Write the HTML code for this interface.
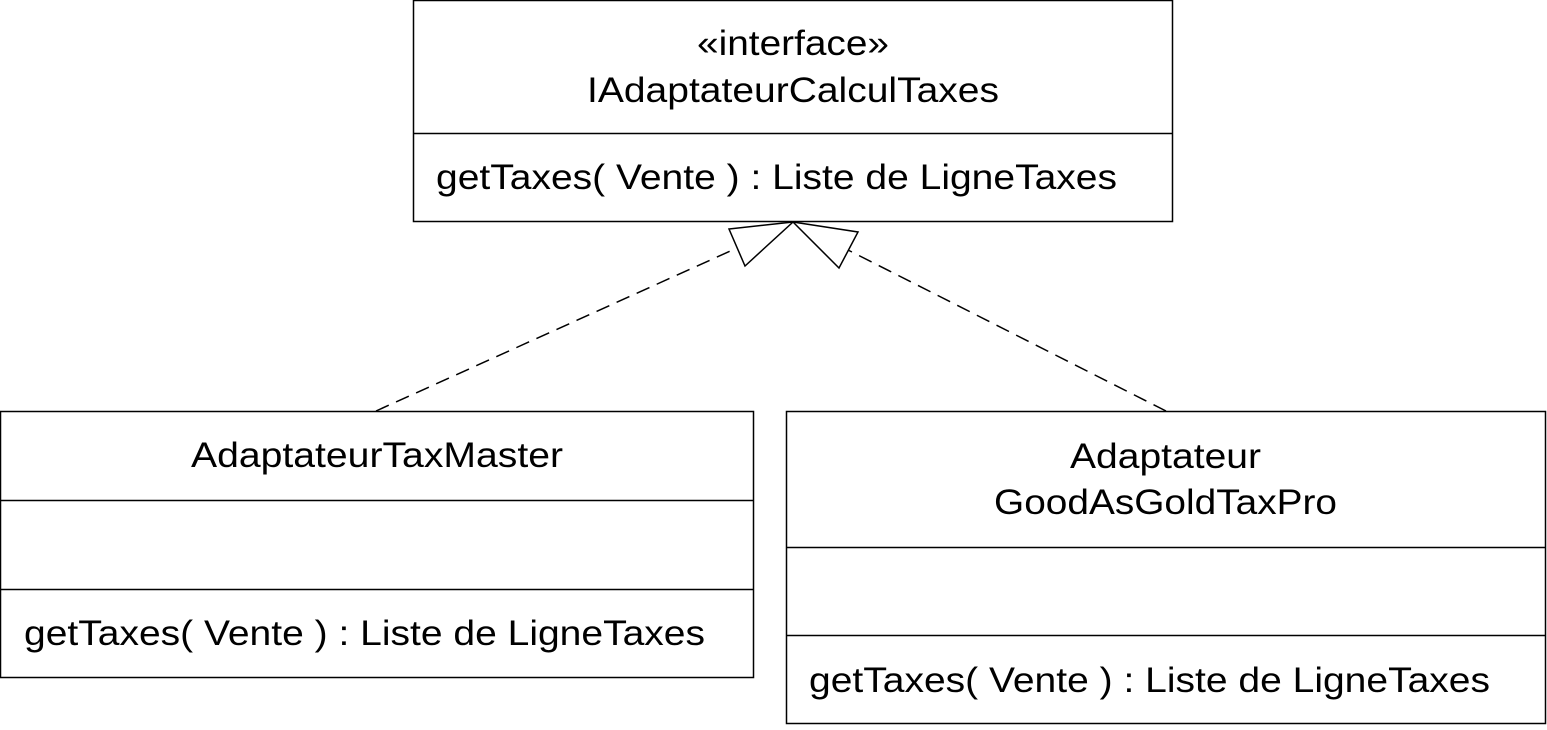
<!DOCTYPE html>
<html><head><style>
body{margin:0;width:1547px;height:725px;background:#fff;overflow:hidden}
svg text{font-family:"Liberation Sans",Arial,sans-serif;font-size:35px;fill:#000}
</style></head><body>
<svg width="1547" height="725" viewBox="0 0 1547 725">
<g fill="none" stroke="#000" stroke-width="1.5">
<rect x="413.5" y="0.5" width="759" height="221"/>
<line x1="413" y1="133.5" x2="1172" y2="133.5"/>
<rect x="0.5" y="411.5" width="753" height="266"/>
<line x1="0" y1="500.5" x2="753" y2="500.5"/>
<line x1="0" y1="589.5" x2="753" y2="589.5"/>
<rect x="786.5" y="411.5" width="759" height="312"/>
<line x1="786" y1="547.5" x2="1546" y2="547.5"/>
<line x1="786" y1="635.5" x2="1546" y2="635.5"/>
<line x1="376" y1="411" x2="737" y2="248" stroke-dasharray="14,8"/>
<line x1="1166" y1="411" x2="848" y2="250" stroke-dasharray="14,8"/>
<polygon points="793,222 729,229 745,266" fill="#fff"/>
<polygon points="793,222 858,232 839,268" fill="#fff"/>
</g>
<text x="697" y="55" textLength="192" lengthAdjust="spacingAndGlyphs">«interface»</text>
<text x="587" y="102" textLength="412" lengthAdjust="spacingAndGlyphs">IAdaptateurCalculTaxes</text>
<text x="436" y="189" textLength="681" lengthAdjust="spacingAndGlyphs">getTaxes( Vente ) : Liste de LigneTaxes</text>
<text x="191" y="467" textLength="372" lengthAdjust="spacingAndGlyphs">AdaptateurTaxMaster</text>
<text x="24" y="645" textLength="681" lengthAdjust="spacingAndGlyphs">getTaxes( Vente ) : Liste de LigneTaxes</text>
<text x="1070" y="468" textLength="191" lengthAdjust="spacingAndGlyphs">Adaptateur</text>
<text x="994" y="514" textLength="343" lengthAdjust="spacingAndGlyphs">GoodAsGoldTaxPro</text>
<text x="809" y="692" textLength="681" lengthAdjust="spacingAndGlyphs">getTaxes( Vente ) : Liste de LigneTaxes</text>
</svg>
</body></html>
